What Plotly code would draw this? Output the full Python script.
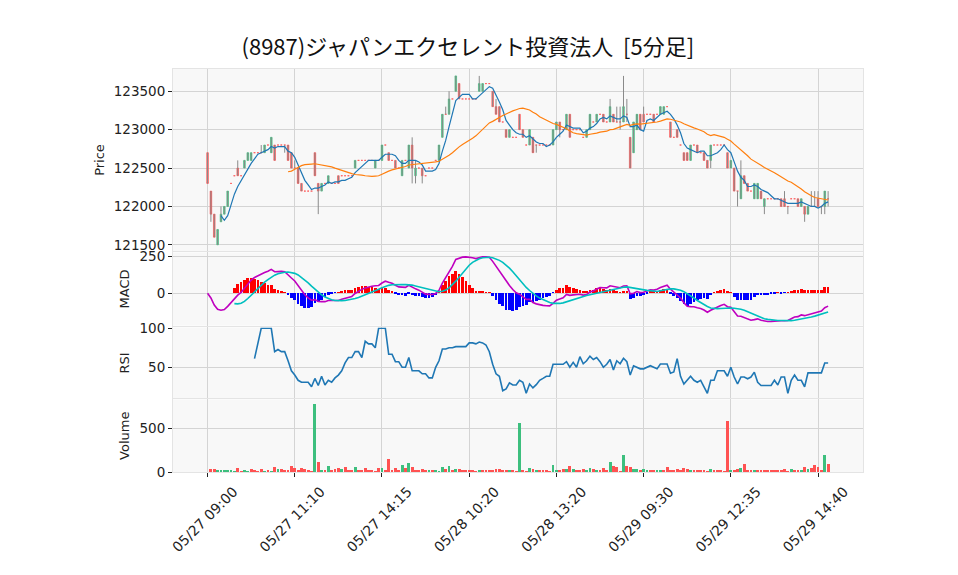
import numpy as np
import pandas as pd
import plotly.graph_objects as go
from plotly.subplots import make_subplots

TITLE = "(8987)ジャパンエクセレント投資法人  [5分足]"

# one label every 26 bars (5 minute bars)
TICK_STEP = 26
TICK_LABELS = ["05/27 09:00", "05/27 11:10", "05/27 14:15", "05/28 10:20",
               "05/28 13:20", "05/29 09:30", "05/29 12:35", "05/29 14:40"]

OPEN = [
    122700, 122200, 121900, 121500, 121800, 121900, 122000, 122300, 122400, 122500,
    122400, 122500, 122600, 122600, 122700, 122700, 122700, 122700, 122800, 122700,
    122800, 122800, 122800, 122800, 122800, 122700, 122500, 122500, 122300, 122200,
    122200, 122200, 122700, 122300, 122200, 122300, 122300, 122300, 122300, 122400,
    122400, 122400, 122400, 122400, 122500, 122600, 122600, 122600, 122600, 122600,
    122500, 122600, 122600, 122800, 122700, 122600, 122600, 122500, 122400, 122600,
    122500, 122800, 122400, 122500, 122500, 122400, 122500, 122500, 122600, 122600,
    122900, 123200, 123200, 123400, 123500, 123600, 123400, 123400, 123400, 123400,
    123400, 123500, 123500, 123600, 123600, 123500, 123300, 123300, 123100, 123000,
    122900, 122900, 122900, 123200, 123000, 122800, 122800, 122900, 122800, 122800,
    122800, 122800, 122800, 122800, 123000, 123100, 123000, 123000, 123200, 123000,
    123000, 123000, 122900, 122900, 123000, 123100, 123100, 123200, 123200, 123100,
    123100, 123200, 123100, 123100, 123100, 123200, 122900, 122700, 123000, 123200,
    123200, 123200, 123200, 123200, 123200, 123200, 123200, 123300, 123100, 122900,
    123000, 122800, 122700, 122700, 122600, 122800, 122800, 122700, 122700, 122600,
    122600, 122800, 122800, 122800, 122800, 122700, 122500, 122500, 122200, 122100,
    122400, 122300, 122200, 122100, 122100, 122200, 122000, 122100, 122100, 122100,
    122100, 122100, 122100, 122000, 122100, 122100, 122100, 122000, 122000, 121900,
    122000, 122000, 122100, 122000, 122000, 122100,
]

HIGH = [
    122700, 122200, 121900, 121700, 122000, 122000, 122200, 122300, 122400, 122600,
    122400, 122600, 122700, 122700, 122700, 122700, 122800, 122800, 122800, 122900,
    122800, 122800, 122800, 122800, 122800, 122700, 122600, 122500, 122300, 122200,
    122200, 122200, 122700, 122300, 122300, 122300, 122400, 122300, 122300, 122400,
    122400, 122400, 122400, 122400, 122600, 122600, 122600, 122600, 122600, 122600,
    122600, 122600, 122800, 122800, 122700, 122600, 122600, 122500, 122600, 122600,
    122800, 122900, 122600, 122500, 122500, 122400, 122500, 122500, 122600, 122800,
    123200, 123300, 123500, 123400, 123700, 123600, 123400, 123400, 123400, 123400,
    123400, 123700, 123600, 123600, 123600, 123500, 123400, 123300, 123100, 123000,
    123000, 122900, 122900, 123200, 123000, 122800, 123000, 122900, 122800, 122800,
    122800, 122800, 122800, 123000, 123100, 123100, 123000, 123200, 123200, 123000,
    123000, 123000, 122900, 123000, 123200, 123100, 123200, 123200, 123200, 123100,
    123400, 123200, 123300, 123300, 123700, 123400, 122900, 123100, 123200, 123200,
    123300, 123200, 123200, 123200, 123200, 123300, 123300, 123300, 123100, 122900,
    123000, 122800, 122700, 122700, 122800, 122800, 122800, 122700, 122700, 122600,
    122800, 122800, 122800, 122800, 122800, 122700, 122600, 122500, 122200, 122600,
    122400, 122300, 122200, 122300, 122300, 122200, 122100, 122100, 122100, 122100,
    122100, 122100, 122200, 122000, 122100, 122100, 122100, 122100, 122000, 122000,
    122200, 122200, 122200, 122000, 122200, 122200,
]

LOW = [
    122300, 121800, 121600, 121500, 121800, 121900, 122000, 122300, 122400, 122400,
    122400, 122500, 122600, 122600, 122700, 122700, 122700, 122700, 122800, 122700,
    122600, 122800, 122800, 122700, 122600, 122500, 122500, 122300, 122200, 122200,
    122200, 122200, 122400, 121900, 122200, 122300, 122300, 122300, 122300, 122300,
    122400, 122400, 122400, 122400, 122500, 122600, 122600, 122600, 122600, 122600,
    122500, 122600, 122600, 122800, 122600, 122600, 122500, 122500, 122400, 122600,
    122500, 122300, 122300, 122500, 122300, 122400, 122500, 122500, 122600, 122600,
    122900, 123200, 123200, 123400, 123500, 123400, 123400, 123400, 123400, 123400,
    123400, 123500, 123500, 123600, 123600, 123300, 123200, 123100, 123100, 122900,
    122900, 122900, 122900, 123000, 122900, 122800, 122800, 122700, 122700, 122800,
    122800, 122800, 122800, 122800, 123000, 122900, 123000, 123000, 122900, 123000,
    123000, 123000, 122900, 122900, 123000, 123100, 123100, 123200, 123100, 123100,
    123100, 123100, 123100, 123000, 123100, 123100, 122500, 122700, 123000, 123000,
    123100, 123200, 123200, 123100, 123200, 123200, 123200, 123300, 122900, 122900,
    122900, 122800, 122600, 122600, 122600, 122800, 122700, 122700, 122600, 122500,
    122500, 122800, 122800, 122800, 122800, 122500, 122500, 122200, 122000, 122100,
    122300, 122200, 122200, 122100, 122100, 122100, 121900, 122100, 122100, 122100,
    122100, 122000, 122000, 121900, 122100, 122100, 122000, 122000, 121800, 121900,
    122000, 122000, 122000, 121900, 121900, 122000,
]

CLOSE = [
    122300, 121900, 121600, 121700, 121900, 122000, 122200, 122300, 122400, 122400,
    122400, 122600, 122700, 122700, 122700, 122700, 122700, 122800, 122800, 122900,
    122600, 122800, 122800, 122800, 122600, 122500, 122500, 122300, 122200, 122200,
    122200, 122200, 122400, 122200, 122300, 122300, 122400, 122300, 122300, 122300,
    122400, 122400, 122400, 122400, 122600, 122600, 122600, 122600, 122600, 122600,
    122600, 122600, 122800, 122800, 122600, 122600, 122500, 122500, 122600, 122600,
    122800, 122500, 122500, 122500, 122400, 122400, 122500, 122500, 122600, 122800,
    123200, 123200, 123400, 123400, 123700, 123400, 123400, 123400, 123400, 123400,
    123400, 123600, 123600, 123600, 123600, 123300, 123200, 123100, 123100, 122900,
    123000, 122900, 122900, 123000, 122900, 122800, 123000, 122700, 122800, 122800,
    122800, 122800, 122800, 123000, 123100, 123000, 123000, 123200, 122900, 123000,
    123000, 123000, 122900, 123000, 123200, 123100, 123200, 123200, 123100, 123100,
    123300, 123100, 123100, 123100, 123300, 123200, 122500, 123100, 123200, 123000,
    123100, 123200, 123200, 123100, 123200, 123300, 123300, 123300, 122900, 122900,
    122900, 122800, 122600, 122600, 122800, 122800, 122700, 122700, 122600, 122500,
    122800, 122800, 122800, 122800, 122800, 122500, 122600, 122200, 122200, 122400,
    122300, 122200, 122200, 122300, 122300, 122100, 122100, 122100, 122100, 122100,
    122100, 122000, 122000, 122000, 122100, 122100, 122000, 122100, 121900, 122000,
    122000, 122000, 122000, 122000, 122200, 122100,
]

VOLUME = [
    0, 31, 31, 15, 15, 8, 8, 8, 4, 42,
    4, 15, 4, 31, 15, 4, 31, 4, 15, 4,
    54, 31, 31, 8, 15, 65, 42, 15, 42, 31,
    8, 4, 769, 112, 8, 8, 65, 8, 31, 42,
    31, 54, 8, 15, 54, 8, 15, 42, 8, 15,
    4, 42, 42, 8, 146, 15, 42, 8, 77, 42,
    100, 54, 15, 8, 31, 8, 15, 8, 8, 4,
    54, 31, 65, 8, 31, 31, 8, 8, 8, 8,
    4, 15, 15, 8, 15, 15, 31, 31, 8, 8,
    15, 8, 4, 558, 8, 4, 42, 31, 15, 15,
    8, 8, 4, 77, 15, 15, 31, 31, 65, 31,
    8, 8, 31, 15, 42, 31, 15, 8, 42, 8,
    112, 65, 54, 4, 192, 65, 54, 31, 31, 8,
    31, 8, 15, 8, 8, 8, 8, 54, 8, 15,
    31, 15, 42, 31, 15, 15, 15, 15, 15, 4,
    31, 15, 8, 8, 4, 577, 15, 15, 31, 42,
    88, 15, 8, 15, 8, 15, 15, 8, 8, 15,
    15, 8, 31, 4, 31, 15, 8, 8, 54, 31,
    42, 77, 54, 15, 192, 88,
]

UP = "#3dbf7e"
DOWN = "#ff5252"
WICK = "#8a8a8a"
GRID = "#d4d4d4"
TEXT = "#222222"
TICK_FONT = "DejaVu Sans"


def add_indicators(df):
    """Moving averages, MACD and RSI from the close prices."""
    close = df["close"]
    df["ma_s"] = close.rolling(5).mean()
    df["ma_l"] = close.rolling(25).mean()
    ema12 = close.ewm(span=12, adjust=False).mean()
    ema26 = close.ewm(span=26, adjust=False).mean()
    df["macd"] = ema12 - ema26
    df["signal"] = df["macd"].rolling(9).mean()
    df["hist"] = df["macd"] - df["signal"]
    delta = close.diff()
    gain = delta.clip(lower=0).rolling(14).mean()
    loss = (-delta.clip(upper=0)).rolling(14).mean()
    df["rsi"] = 100 - 100 / (1 + gain / loss)
    return df


df = pd.DataFrame({"open": OPEN, "high": HIGH, "low": LOW,
                   "close": CLOSE, "volume": VOLUME})
df = add_indicators(df)
x = np.arange(len(df))

fig = make_subplots(rows=4, cols=1, shared_xaxes=True)

# wicks only (gray), bodies drawn on top in colour
fig.add_trace(go.Ohlc(
    x=x, open=df["open"], high=df["high"], low=df["low"], close=df["close"],
    tickwidth=0,
    increasing=dict(line=dict(color=WICK, width=1)),
    decreasing=dict(line=dict(color=WICK, width=1)),
    hoverinfo="skip"
), row=1, col=1)

body_top = df[["open", "close"]].max(axis=1)
body_bot = df[["open", "close"]].min(axis=1)
rising = df["close"] > df["open"]
for mask, color in ((rising, UP), (~rising, DOWN)):
    style = dict(line=dict(color=color, width=0.6), fillcolor=color)
    fig.add_trace(go.Candlestick(
        x=x,
        open=df["open"].where(mask), close=df["close"].where(mask),
        high=body_top.where(mask), low=body_bot.where(mask),
        increasing=style, decreasing=style, whiskerwidth=0
    ), row=1, col=1)

fig.add_trace(go.Scatter(x=x, y=df["ma_s"], mode="lines",
                         line=dict(color="#1f77b4", width=1.2)), row=1, col=1)
fig.add_trace(go.Scatter(x=x, y=df["ma_l"], mode="lines",
                         line=dict(color="#ff7f0e", width=1.2)), row=1, col=1)

# MACD panel
hist_colors = np.where(df["hist"] >= 0, "#ff0000", "#0000ff")
fig.add_trace(go.Bar(x=x, y=df["hist"], marker_color=hist_colors,
                     marker_line_width=0, width=0.8), row=2, col=1)
fig.add_trace(go.Scatter(x=x, y=df["macd"], mode="lines",
                         line=dict(color="#bf00bf", width=1.6)), row=2, col=1)
fig.add_trace(go.Scatter(x=x, y=df["signal"], mode="lines",
                         line=dict(color="#00bfbf", width=1.6)), row=2, col=1)

# RSI panel
fig.add_trace(go.Scatter(x=x, y=df["rsi"], mode="lines",
                         line=dict(color="#1f77b4", width=1.6)), row=3, col=1)

# volume, coloured by change of close
vol_colors = np.where(df["close"].diff() > 0, UP, DOWN)
fig.add_trace(go.Bar(x=x, y=df["volume"], marker_color=vol_colors,
                     marker_line_width=0, width=0.85), row=4, col=1)

# the page adds an 8px body margin, so the margins below are offset by it
fig.update_layout(
    width=958, height=575,
    margin=dict(l=165, r=103, t=61, b=111),
    paper_bgcolor="white",
    plot_bgcolor="#f8f8f8",
    showlegend=False,
    bargap=0,
    font=dict(family=TICK_FONT, size=13.5, color=TEXT),
    title=dict(text=TITLE, x=0.480, xanchor="center", y=0.932, yanchor="middle",
               xref="container", yref="container",
               font=dict(family="Noto Sans CJK JP", size=22, color="#111111")),
)

tick_vals = list(range(0, len(df), TICK_STEP))
fig.update_xaxes(
    range=[-10.3, 195.4],
    tickmode="array", tickvals=tick_vals, ticktext=TICK_LABELS,
    showgrid=True, gridcolor=GRID, gridwidth=1,
    showline=True, linecolor="#e4e4e4", mirror=True,
    zeroline=False, rangeslider_visible=False,
    showticklabels=False, ticks="",
)
fig.update_xaxes(showticklabels=True, ticks="outside", ticklen=4, tickcolor=TEXT,
                 tickangle=-45, tickfont=dict(size=14),
                 ticklabelshift=26, ticklabelstandoff=1,
                 row=4, col=1)

fig.update_yaxes(showgrid=True, gridcolor=GRID, gridwidth=1, zeroline=False,
                 showline=True, linecolor="#e4e4e4", mirror=True,
                 ticks="outside", ticklen=4, tickcolor=TEXT, tickformat="d",
                 title_font=dict(size=13), title_standoff=6)

fig.update_layout(
    yaxis=dict(domain=[0.5484, 1.0], range=[121420, 123790], dtick=500,
               title_text="Price"),
    yaxis2=dict(domain=[0.3635, 0.5447], range=[-220, 279], dtick=250,
                title_text="MACD"),
    yaxis3=dict(domain=[0.1824, 0.3586], range=[10, 101], dtick=50,
                title_text="RSI"),
    yaxis4=dict(domain=[0.0, 0.180], range=[0, 832], dtick=500,
                title_text="Volume"),
)

fig.write_html("out.html")
